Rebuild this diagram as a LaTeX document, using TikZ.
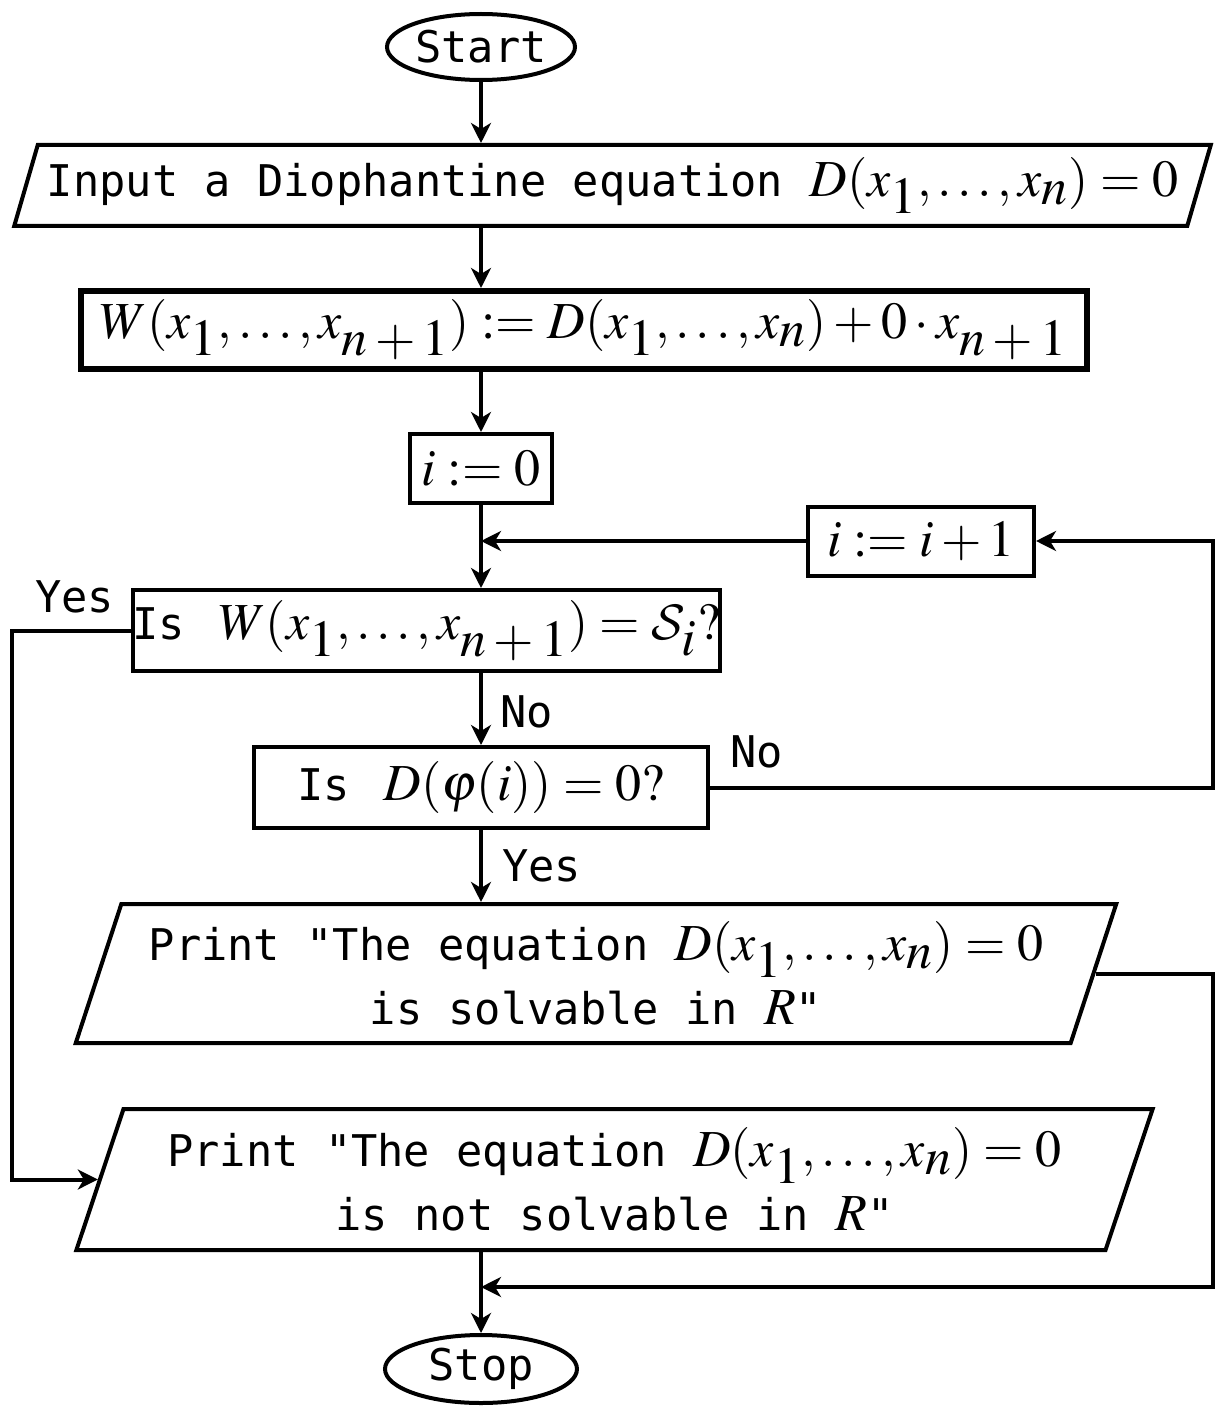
\documentclass[tikz,border=0pt]{standalone}
\usepackage{mathptmx}
\usepackage[no-math]{fontspec}
\setmonofont{DejaVu Sans Mono}[Scale=0.84]
\DeclareMathAlphabet{\mathcal}{OMS}{cmsy}{m}{n}
\newcommand\sbs[1]{_{\textstyle #1}}
\usetikzlibrary{shapes.geometric,arrows.meta}
\begin{document}
\begin{tikzpicture}[x=0.5pt,y=-0.5pt,
  txt/.style={font=\fontsize{26}{31}\selectfont\ttfamily},
  base/.style={draw, line width=2pt, txt, inner sep=0pt, align=center},
  term/.style={base, ellipse},
  io/.style={base, trapezium, trapezium left angle=67.5, trapezium right angle=112.5, trapezium stretches=true},
  proc/.style={base, rectangle},
  conn/.style={line width=2pt, -{Stealth[length=10pt,width=10pt,inset=3pt]}},
  lbl/.style={txt, inner sep=0pt, anchor=west}]
\useasboundingbox (0,0) rectangle (1215,1407);
\coordinate (rr) at (1213,0);
\coordinate (lr) at (12,0);

\node[term, minimum width=94pt, minimum height=33pt] (start) at (481,47) {Start};
\node[io, minimum width=600pt, minimum height=40.5pt] (inp) at (612.5,185.5) {Input a Diophantine equation $D(x\sbs1,\ldots,x\sbs n)=0$};
\node[proc, line width=3pt, minimum width=503pt, minimum height=39pt] (W) at (584,330) {$W(x\sbs1,\ldots,x\sbs{n+1}) \mathrel{:=} D(x\sbs1,\ldots,x\sbs n)+0\cdot x\sbs{n+1}$};
\node[proc, minimum width=71pt, minimum height=34.5pt] (i0) at (481,468.5) {$i \mathrel{:=} 0$};
\node[proc, minimum width=113pt, minimum height=34.5pt] (inc) at (921,541) {$i \mathrel{:=} i+1$};
\node[proc, minimum width=293.5pt, minimum height=40.5pt] (isW) at (426.5,630.5) {Is\ \,$W(x\sbs1,\ldots,x\sbs{n+1}) = \mathcal{S}\sbs i?$};
\node[proc, minimum width=227pt, minimum height=40.5pt] (isD) at (481,787.5) {Is\ \,$D(\varphi(i)) = 0?$};
\node[io, minimum width=523pt, minimum height=69.5pt] (ps) at (596,973.5) {Print "The equation $D(x\sbs1,\ldots,x\sbs n)=0$\\[1pt]is solvable in $R$"};
\node[io, minimum width=541pt, minimum height=70.5pt] (pn) at (614.5,1179.5) {Print "The equation $D(x\sbs1,\ldots,x\sbs n)=0$\\[1pt]is not solvable in $R$"};
\node[term, minimum width=96pt, minimum height=34pt] (stop) at (481,1369) {Stop};

\draw[conn] (start) -- (start.south |- inp.north);
\draw[conn] (start.south |- inp.south) -- (start.south |- W.north);
\draw[conn] (start.south |- W.south) -- (i0.north);
\draw[conn] (i0.south) -- (i0.south |- isW.north);
\draw[conn] (inc.west) -- (inc.west -| i0.south);
\draw[conn] (i0.south |- isW.south) -- (isD.north);
\draw[conn] (isD.south) -- (isD.south |- ps.north);
\draw[conn] (isD.east) -- (isD.east -| rr) -- (inc.east -| rr) -- (inc.east);
\draw[conn] (isW.west) -- (isW.west -| lr) -- (pn.west -| lr) -- (pn.west);
\coordinate (bj) at (481,1287);
\draw[conn] (ps.east) -- (ps.east -| rr) -- (bj -| rr) -- (bj);
\draw[conn] (stop.north |- pn.south) -- (stop.north);

\node[lbl] (l1) at (500,712) {No};
\node[lbl] (l2) at (730,752) {No};
\node[lbl] (l3) at (502,866) {Yes};
\node[lbl] (l4) at (35,597) {Yes};
\end{tikzpicture}
\end{document}
